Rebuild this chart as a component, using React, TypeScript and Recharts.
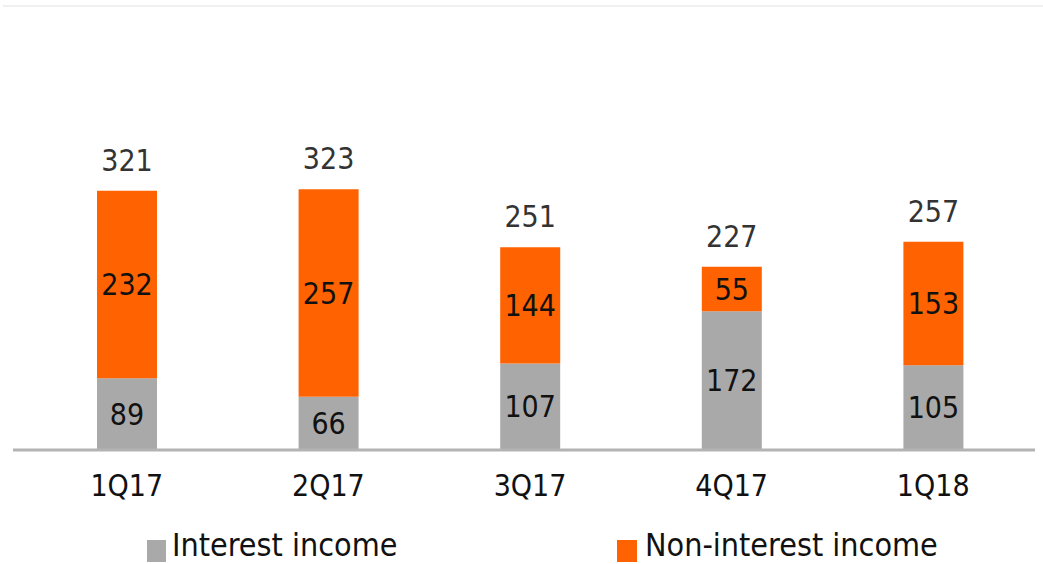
import { BarChart, Bar, XAxis, YAxis, LabelList } from "recharts";

const quarters = ["1Q17", "2Q17", "3Q17", "4Q17", "1Q18"];
const interestIncome = [89, 66, 107, 172, 105];
const nonInterestIncome = [232, 257, 144, 55, 153];
const totals = [321, 323, 251, 227, 257];

const GRAY = "#a9a9a9";
const ORANGE = "#ff6200";
const FONT = "'DejaVu Sans Condensed', 'DejaVu Sans', sans-serif";

const data = quarters.map((q, i) => ({
  name: q,
  interest: interestIncome[i],
  nonInterest: nonInterestIncome[i],
  total: totals[i],
}));

const App = () => {
  return (
    <div style={{ position: "absolute", left: 0, top: 0, width: 1043, height: 564, background: "#fff", fontFamily: FONT, overflow: "hidden" }}>
      <div style={{ position: "absolute", left: 3, right: 0, top: 5, height: 2, background: "#f0f0f0" }} />
      <BarChart
        width={1043}
        height={564}
        data={data}
        margin={{ top: 6, right: 8, left: 13, bottom: 0 }}
      >
        <XAxis
          dataKey="name"
          height={114}
          padding={{ left: 13, right: 1 }}
          axisLine={{ stroke: "#b3b3b3", strokeWidth: 3 }}
          tickLine={false}
          tickSize={0}
          tickMargin={25}
          tick={{ fill: "#111", fontSize: 30, fontFamily: FONT }}
        />
        <YAxis hide domain={[0, 550]} />
        <Bar dataKey="interest" stackId="a" fill={GRAY} barSize={60} isAnimationActive={false}>
          <LabelList dataKey="interest" position="center" fill="#111" fontSize={30} fontFamily={FONT} />
        </Bar>
        <Bar dataKey="nonInterest" stackId="a" fill={ORANGE} barSize={60} isAnimationActive={false}>
          <LabelList dataKey="nonInterest" position="center" fill="#111" fontSize={30} fontFamily={FONT} />
          <LabelList dataKey="total" position="top" offset={20} fill="#333" fontSize={30} fontFamily={FONT} />
        </Bar>
      </BarChart>
      <div style={{ position: "absolute", top: 527, left: 0, width: 1043, height: 36, fontSize: 32, color: "#111" }}>
        <div style={{ position: "absolute", left: 147, top: 13, width: 19, height: 22, background: GRAY }} />
        <div style={{ position: "absolute", left: 172, top: 0, lineHeight: "36px", whiteSpace: "nowrap" }}>Interest income</div>
        <div style={{ position: "absolute", left: 617, top: 13, width: 20, height: 22, background: ORANGE }} />
        <div style={{ position: "absolute", left: 645, top: 0, lineHeight: "36px", whiteSpace: "nowrap" }}>Non-interest income</div>
      </div>
    </div>
  );
};

export default App;
